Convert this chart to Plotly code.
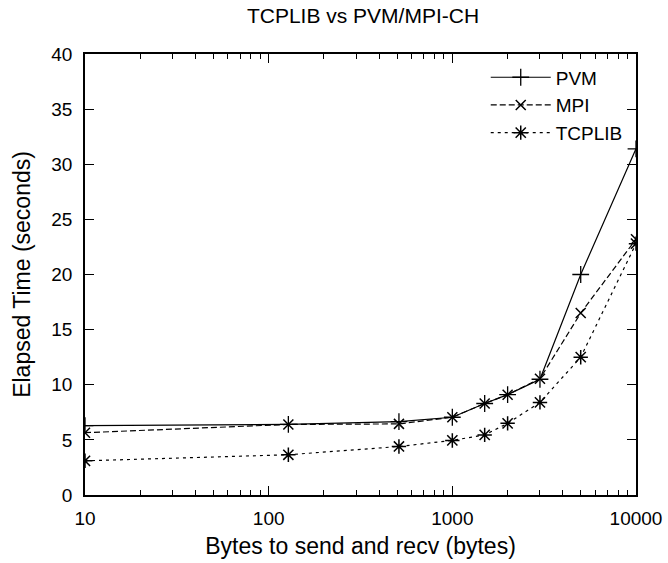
import plotly.graph_objects as go

sizes = [10, 128, 512, 1000, 1500, 2000, 3000, 5000, 10000]
pvm = [6.3, 6.4, 6.65, 7.05, 8.3, 9.1, 10.5, 20.0, 31.4]
mpi = [5.65, 6.4, 6.45, 7.05, 8.3, 9.1, 10.55, 16.5, 23.2]
tcplib = [3.1, 3.65, 4.4, 4.95, 5.45, 6.5, 8.4, 12.5, 22.8]

x_ticks = [10, 100, 1000, 10000]
x_ticklabels = ["10", "100", "1000", "10000"]

FONT = "Liberation Sans, Arial, Helvetica, sans-serif"
FS = 19

W, H = 668, 563

fig = go.Figure()
fig.add_trace(go.Scatter(x=sizes, y=pvm, name="PVM", mode="lines+markers",
                         line=dict(color="black", width=1.2),
                         marker=dict(symbol="cross-thin", size=12, line=dict(color="black", width=1.3))))
fig.add_trace(go.Scatter(x=sizes, y=mpi, name="MPI", mode="lines+markers",
                         line=dict(color="black", width=1.2, dash="6px,3px"),
                         marker=dict(symbol="x-thin", size=10, line=dict(color="black", width=1.5))))
fig.add_trace(go.Scatter(x=sizes, y=tcplib, name="TCPLIB", mode="lines+markers",
                         line=dict(color="black", width=1.2, dash="3px,4px"),
                         marker=dict(symbol="asterisk-open", size=12, line=dict(color="black", width=1.5))))

fig.update_layout(
    width=W, height=H,
    margin=dict(l=85, r=32, t=54, b=68, autoexpand=False),
    paper_bgcolor="white", plot_bgcolor="white",
    font=dict(family=FONT, size=FS, color="black"),
    title=dict(text="TCPLIB vs PVM/MPI-CH", x=363 / W, xanchor="center",
               y=1 - 16 / H, yanchor="middle", font=dict(size=21)),
    showlegend=True,
    legend=dict(x=0.985, y=0.99, xanchor="right", yanchor="top",
                bgcolor="rgba(0,0,0,0)", font=dict(size=FS),
                tracegroupgap=0, itemwidth=60),
)
fig.update_xaxes(type="log", range=[1, 4], tickvals=x_ticks, ticktext=x_ticklabels,
                 ticks="inside", ticklen=9, tickwidth=1.2, tickcolor="black",
                 showline=True, linecolor="black", linewidth=1.5, mirror="allticks",
                 showgrid=False, zeroline=False, ticklabelstandoff=5, automargin=False,
                 minor=dict(ticks="inside", ticklen=5, tickwidth=1.2, tickcolor="black",
                            dtick="D1", showgrid=False),
                 title=dict(text="Bytes to send and recv (bytes)", standoff=10),
                 tickfont=dict(size=FS))
fig.update_yaxes(range=[0, 40], dtick=5,
                 ticks="inside", ticklen=9, tickwidth=1.2, tickcolor="black",
                 showline=True, linecolor="black", linewidth=1.5, mirror="allticks",
                 showgrid=False, zeroline=False, ticklabelstandoff=7, automargin=False,
                 title=dict(text="Elapsed Time (seconds)", standoff=14),
                 tickfont=dict(size=FS))

fig.write_html("out.html", config={"displayModeBar": False},
               post_script="document.body.style.margin='0';document.body.style.overflow='hidden';")
